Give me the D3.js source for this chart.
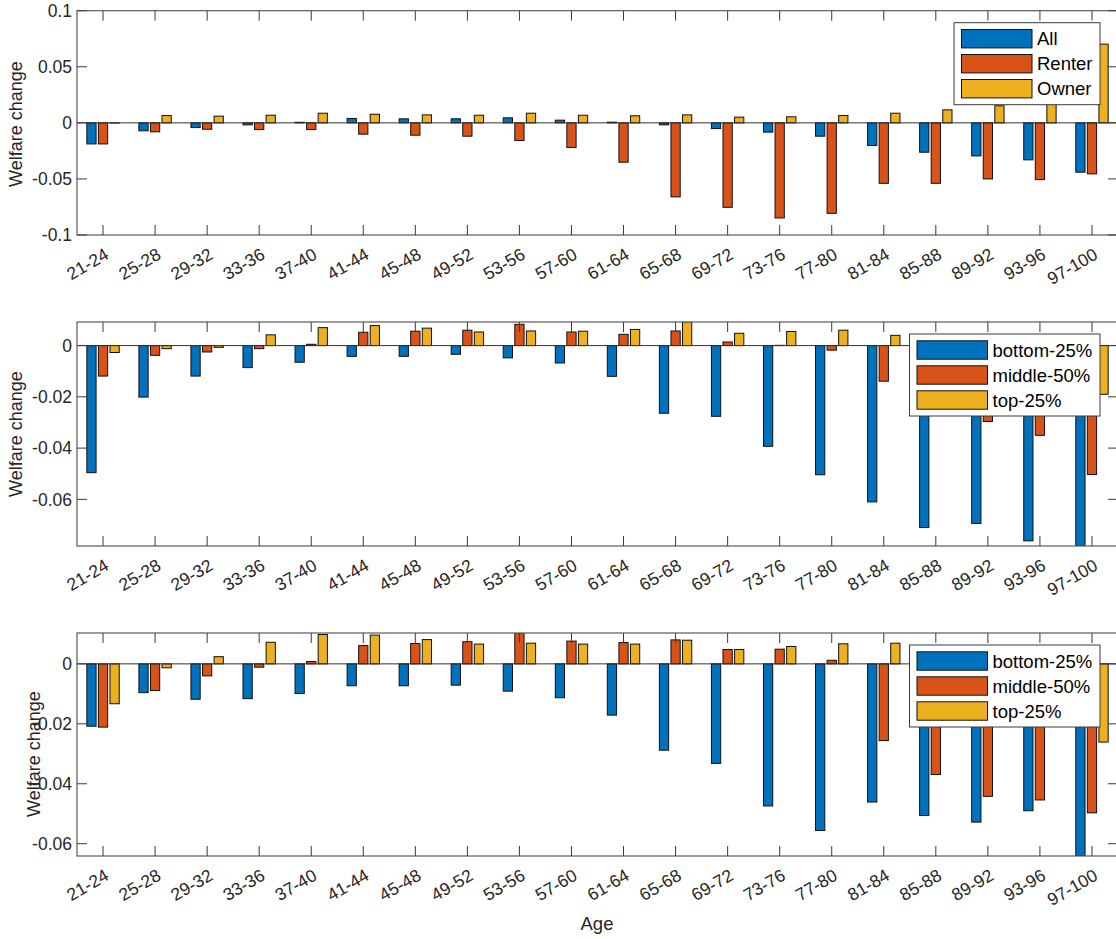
<!DOCTYPE html>
<html>
<head>
<meta charset="utf-8">
<script src="https://cdn.jsdelivr.net/npm/d3@7"></script>
<style>
  body { margin: 0; background: #fff; }
  svg { display: block; font-family: "Liberation Sans", Arial, sans-serif; }
</style>
</head>
<body>
<div id="wrapper"></div>
<script>
// age groups on the x axis
const ageGroups = ["21-24", "25-28", "29-32", "33-36", "37-40", "41-44", "45-48", "49-52", "53-56", "57-60",
                   "61-64", "65-68", "69-72", "73-76", "77-80", "81-84", "85-88", "89-92", "93-96", "97-100"]

// panel 1: all / renter / owner
const allVals    = [-0.0188, -0.0071, -0.0042, -0.0018, 0.0005, 0.0039, 0.0036, 0.0036, 0.0045, 0.0024,
                    0.0006, -0.0018, -0.0051, -0.0083, -0.0119, -0.0202, -0.0262, -0.0295, -0.0330, -0.0440]
const renterVals = [-0.0188, -0.0080, -0.0057, -0.0060, -0.0060, -0.0101, -0.0110, -0.0119, -0.0158, -0.0220,
                    -0.0351, -0.0660, -0.0753, -0.0848, -0.0807, -0.0539, -0.0539, -0.0500, -0.0506, -0.0455]
const ownerVals  = [-0.0002, 0.0065, 0.0060, 0.0068, 0.0086, 0.0077, 0.0071, 0.0068, 0.0086, 0.0068,
                    0.0063, 0.0071, 0.0051, 0.0054, 0.0065, 0.0086, 0.0116, 0.0152, 0.0220, 0.0702]

// panel 2: bottom / middle / top
const bottomVals2 = [-0.0496, -0.0201, -0.0119, -0.0086, -0.0065, -0.0042, -0.0042, -0.0034, -0.0048, -0.0068,
                     -0.0120, -0.0264, -0.0276, -0.0393, -0.0504, -0.0610, -0.0710, -0.0694, -0.0762, -0.0782]
const middleVals2 = [-0.0119, -0.0038, -0.0025, -0.0012, 0.0005, 0.0052, 0.0056, 0.0060, 0.0083, 0.0053,
                     0.0044, 0.0057, 0.0014, 0.0001, -0.0018, -0.0139, -0.0220, -0.0296, -0.0350, -0.0503]
const topVals2    = [-0.0027, -0.0012, -0.0007, 0.0042, 0.0070, 0.0078, 0.0068, 0.0053, 0.0057, 0.0056,
                     0.0063, 0.0092, 0.0048, 0.0055, 0.0060, 0.0040, 0.0030, 0.0020, -0.0050, -0.0190]

// panel 3: bottom / middle / top
const bottomVals3 = [-0.0208, -0.0096, -0.0118, -0.0116, -0.0099, -0.0073, -0.0073, -0.0071, -0.0091, -0.0113,
                     -0.0171, -0.0288, -0.0332, -0.0474, -0.0556, -0.0461, -0.0506, -0.0528, -0.0490, -0.0641]
const middleVals3 = [-0.0211, -0.0089, -0.0040, -0.0011, 0.0008, 0.0061, 0.0068, 0.0074, 0.0103, 0.0076,
                     0.0071, 0.0080, 0.0048, 0.0049, 0.0012, -0.0256, -0.0369, -0.0442, -0.0454, -0.0497]
const topVals3    = [-0.0133, -0.0013, 0.0024, 0.0072, 0.0098, 0.0096, 0.0081, 0.0066, 0.0069, 0.0066,
                     0.0066, 0.0079, 0.0048, 0.0058, 0.0067, 0.0069, 0.0030, 0.0010, -0.0080, -0.0261]

const legend1 = ["All", "Renter", "Owner"]
const legend2 = ["bottom-25%", "middle-50%", "top-25%"]

const yTicks1 = [0.1, 0.05, 0, -0.05, -0.1]
const yTicks2 = [0, -0.02, -0.04, -0.06]
const yTicks3 = [0, -0.02, -0.04, -0.06]

const colors = ["#0072BD", "#D95319", "#EDB120"]

// layout
const width = 1116, height = 939
const plotLeft = 77, plotRight = 1118
const panels = [
  { top: 10.7, bottom: 235, series: [allVals, renterVals, ownerVals], names: legend1, ticks: yTicks1,
    domain: [-0.1, 0.1], legendW: 146, labelX: 22, labelY: 124 },
  { top: 322, bottom: 546, series: [bottomVals2, middleVals2, topVals2], names: legend2, ticks: yTicks2,
    domain: null, legendW: 190.5, labelX: 22, labelY: 434 },
  { top: 633, bottom: 856, series: [bottomVals3, middleVals3, topVals3], names: legend2, ticks: yTicks3,
    domain: null, legendW: 190.5, labelX: 40, labelY: 754 },
]

const svg = d3.select("#wrapper").append("svg")
  .attr("width", width)
  .attr("height", height)

// categories sit at 1..20, axis from 0.5 to 20.5 (matlab style)
const x = d3.scaleLinear().domain([0.5, 20.5]).range([plotLeft, plotRight])
const step = x(2) - x(1)
const groupOffsets = [-0.2222, 0, 0.2222]
const barW = 0.1778

const tickLen = 10

panels.forEach((p, pi) => {
  const allValues = p.series.flat()
  const domain = p.domain || d3.extent(allValues) // tight limits
  const y = d3.scaleLinear().domain(domain).range([p.bottom, p.top])

  const clipId = "clip" + pi
  svg.append("clipPath").attr("id", clipId)
    .append("rect")
      .attr("x", plotLeft).attr("y", p.top)
      .attr("width", plotRight - plotLeft).attr("height", p.bottom - p.top)

  const g = svg.append("g")

  // bars
  const barsG = g.append("g").attr("clip-path", `url(#${clipId})`)
  p.series.forEach((vals, si) => {
    barsG.selectAll(null)
      .data(vals)
      .join("rect")
        .attr("x", (d, i) => x(i + 1 + groupOffsets[si] - barW / 2))
        .attr("width", barW * step)
        .attr("y", d => y(Math.max(0, d)))
        .attr("height", d => Math.abs(y(d) - y(0)))
        .attr("fill", colors[si])
        .attr("stroke", "#111")
        .attr("stroke-width", 1)
  })

  // baseline
  g.append("line")
    .attr("x1", plotLeft).attr("x2", plotRight)
    .attr("y1", y(0)).attr("y2", y(0))
    .attr("stroke", "#333").attr("stroke-width", 1)

  // box
  g.append("rect")
    .attr("x", plotLeft).attr("y", p.top)
    .attr("width", plotRight - plotLeft).attr("height", p.bottom - p.top)
    .attr("fill", "none").attr("stroke", "#5a5a5a").attr("stroke-width", 1.2)

  // x ticks top and bottom (inward)
  const xt = d3.range(1, ageGroups.length + 1)
  g.selectAll(null).data(xt).join("line")
    .attr("x1", d => x(d)).attr("x2", d => x(d))
    .attr("y1", p.bottom).attr("y2", p.bottom - tickLen)
    .attr("stroke", "#3a3a3a").attr("stroke-width", 1)
  g.selectAll(null).data(xt).join("line")
    .attr("x1", d => x(d)).attr("x2", d => x(d))
    .attr("y1", p.top).attr("y2", p.top + tickLen)
    .attr("stroke", "#3a3a3a").attr("stroke-width", 1)

  // y ticks left and right (inward)
  g.selectAll(null).data(p.ticks).join("line")
    .attr("x1", plotLeft).attr("x2", plotLeft + tickLen)
    .attr("y1", d => y(d)).attr("y2", d => y(d))
    .attr("stroke", "#3a3a3a").attr("stroke-width", 1)
  g.selectAll(null).data(p.ticks).join("line")
    .attr("x1", plotRight).attr("x2", plotRight - tickLen)
    .attr("y1", d => y(d)).attr("y2", d => y(d))
    .attr("stroke", "#3a3a3a").attr("stroke-width", 1)

  // y tick labels (plain hyphen minus, like matlab)
  g.selectAll(null).data(p.ticks).join("text")
    .attr("x", plotLeft - 5)
    .attr("y", d => y(d))
    .attr("dy", "0.36em")
    .attr("text-anchor", "end")
    .attr("font-size", 17.5)
    .attr("fill", "#262626")
    .text(d => String(d))

  // x tick labels, rotated
  g.selectAll(null).data(ageGroups).join("text")
    .attr("transform", (d, i) => `translate(${x(i + 1) + 7},${p.bottom + 23}) rotate(-30)`)
    .attr("text-anchor", "end")
    .attr("font-size", 17.5)
    .attr("fill", "#262626")
    .text(d => d)

  // y label
  g.append("text")
    .attr("transform", `translate(${p.labelX},${p.labelY}) rotate(-90)`)
    .attr("text-anchor", "middle")
    .attr("font-size", 18)
    .attr("fill", "#262626")
    .text("Welfare change")

  // legend
  const lg = g.append("g").attr("transform", `translate(${1100 - p.legendW},${p.top + 12})`)
  lg.append("rect")
    .attr("width", p.legendW).attr("height", 82)
    .attr("fill", "#fff").attr("stroke", "#3a3a3a").attr("stroke-width", 1)
  p.names.forEach((name, k) => {
    lg.append("rect")
      .attr("x", 7.5).attr("y", 6.8 + k * 25)
      .attr("width", 70.5).attr("height", 18.4)
      .attr("fill", colors[k]).attr("stroke", "#111").attr("stroke-width", 1)
    lg.append("text")
      .attr("x", 83).attr("y", 6.8 + k * 25 + 9.2)
      .attr("dy", "0.36em")
      .attr("font-size", 18.5)
      .attr("fill", "#000")
      .text(name)
  })
})

// x axis title
svg.append("text")
  .attr("x", 597).attr("y", 930)
  .attr("text-anchor", "middle")
  .attr("font-size", 18.5)
  .attr("fill", "#262626")
  .text("Age")
</script>
</body>
</html>
